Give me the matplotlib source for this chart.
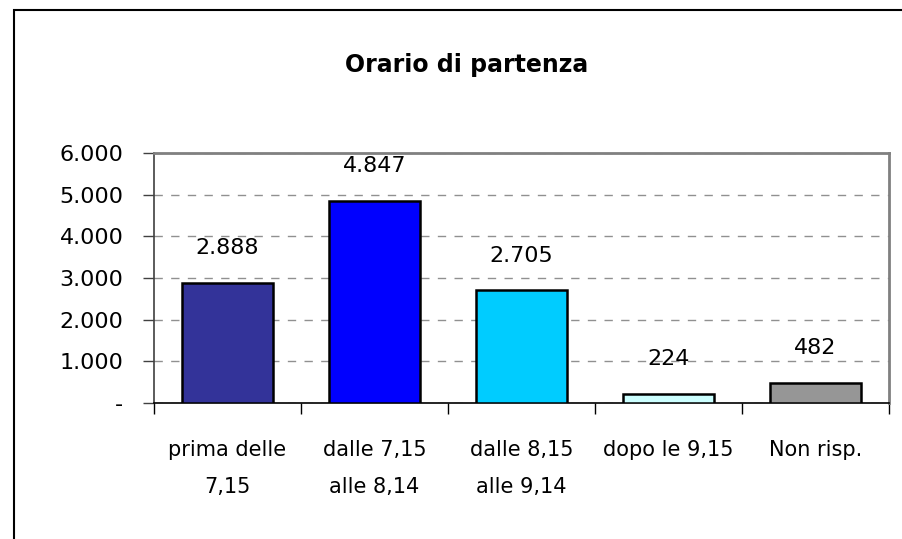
import matplotlib
matplotlib.use('Agg')
import matplotlib.pyplot as plt
from matplotlib.patches import Rectangle

categories = ['prima delle\n7,15', 'dalle 7,15\nalle 8,14', 'dalle 8,15\nalle 9,14',
              'dopo le 9,15', 'Non risp.']
values = [2888, 4847, 2705, 224, 482]
value_labels = ['2.888', '4.847', '2.705', '224', '482']
colors = ['#333399', '#0000FF', '#00CCFF', '#CCFFFF', '#969696']
y_ticks = [0, 1000, 2000, 3000, 4000, 5000, 6000]
y_tick_labels = ['-', '1.000', '2.000', '3.000', '4.000', '5.000', '6.000']
title = 'Orario di partenza'

plt.rcParams['font.family'] = ['DejaVu Sans']

fig = plt.figure(figsize=(9.03, 5.39), dpi=100)
ax = fig.add_axes([154 / 903, 136 / 539, 735 / 903, 250 / 539])

x = list(range(len(values)))
ax.bar(x, values, width=0.62, color=colors, edgecolor='black', linewidth=1.8, zorder=3)

for xi, v, lab in zip(x, values, value_labels):
    ax.annotate(lab, (xi, v), xytext=(0, 25), textcoords='offset points',
                ha='center', va='center', fontsize=16, zorder=4)

ax.set_xlim(-0.5, len(values) - 0.5)
ax.set_ylim(0, 6000)
ax.set_yticks(y_ticks)
ax.set_yticklabels(y_tick_labels, fontsize=16)
ax.set_xticks(x)
ax.set_xticklabels(categories, fontsize=15, linespacing=2.05)
ax.tick_params(axis='x', length=0, pad=27)
ax.set_xticks([i - 0.5 for i in range(len(values) + 1)], minor=True)
ax.tick_params(axis='x', which='minor', length=8, width=1, direction='out', color='black')
ax.tick_params(axis='y', length=8, width=1, direction='out', pad=14, color='#404040')

ax.yaxis.grid(True, linestyle=(0, (6, 6)), color='#909090', linewidth=1, zorder=0)
ax.set_axisbelow(True)

ax.spines['left'].set_color('#404040')
ax.spines['left'].set_linewidth(1.2)
ax.spines['bottom'].set_color('black')
ax.spines['bottom'].set_linewidth(1.2)
ax.spines['top'].set_color('#808080')
ax.spines['top'].set_linewidth(2)
ax.spines['right'].set_color('#808080')
ax.spines['right'].set_linewidth(2)

fig.text(467 / 903, 1 - 65 / 539, title, ha='center', va='center',
         fontsize=17, fontweight='bold')

fig.patches.append(Rectangle((14 / 903, -0.1), 1.2, 1 - 10 / 539 + 0.1,
                             transform=fig.transFigure, fill=False,
                             edgecolor='black', linewidth=1.5))

fig.savefig('out.png', dpi=100)
